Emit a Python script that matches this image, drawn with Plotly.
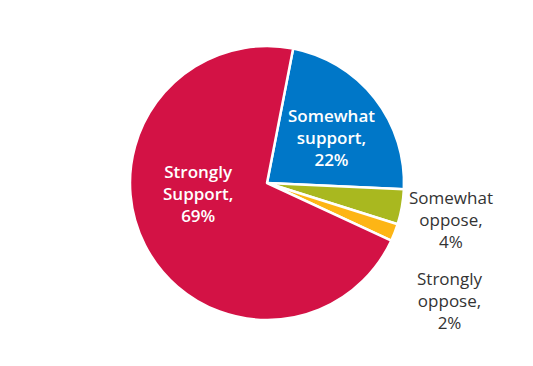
import plotly.graph_objects as go

categories = ["Somewhat support", "Somewhat oppose", "Strongly oppose", "Strongly Support"]
values = [22, 4, 2, 69]
label_lines = [["Somewhat", "support,"], ["Somewhat", "oppose,"], ["Strongly", "oppose,"], ["Strongly", "Support,"]]
colors = ["#0077C8", "#A9B81F", "#FDB515", "#D31245"]

W, H = 533, 366
cx, cy, r = 259, 175, 137

fig = go.Figure(go.Pie(
    labels=categories,
    values=values,
    sort=False,
    direction="clockwise",
    rotation=11,
    marker=dict(colors=colors, line=dict(color="white", width=2.5)),
    textinfo="none",
    hoverinfo="label+percent",
    domain=dict(x=[(cx - r) / W, (cx + r) / W], y=[1 - (cy + r) / H, 1 - (cy - r) / H]),
))

# label placements (pixel centres) and styles
placements = [
    (323, 129, "white", 600),
    (443, 211, "#333333", 400),
    (442, 292, "#333333", 400),
    (190, 185, "white", 600),
]
for lines, v, (px, py, col, wt) in zip(label_lines, values, placements):
    txt = "<br>".join(lines + [f"{v}%"])
    fig.add_annotation(
        x=px / W, y=1 - py / H, xref="paper", yref="paper",
        text=txt, showarrow=False, align="center",
        font=dict(size=17, color=col, family="Open Sans, sans-serif", weight=wt),
        xanchor="center", yanchor="middle",
    )

fig.update_layout(
    width=W, height=H,
    margin=dict(l=0, r=0, t=0, b=0),
    showlegend=False,
    paper_bgcolor="white",
    plot_bgcolor="white",
)

fig.write_html("out.html")
